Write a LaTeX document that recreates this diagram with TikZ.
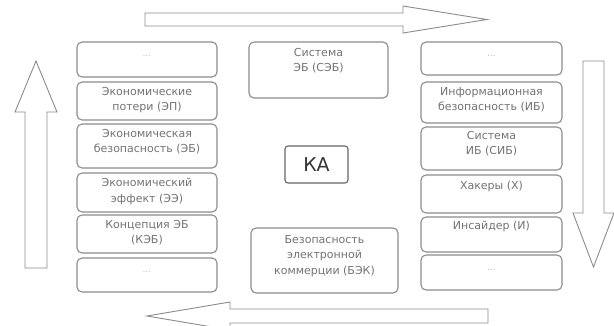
\documentclass[tikz,border=0pt]{standalone}
\usepackage{fontspec}
\setmainfont{DejaVu Sans}

\begin{document}
\begin{tikzpicture}[x=1pt,y=-1pt,
	blk/.style={draw=black!45, line width=1.1pt, rounded corners=5pt, fill=white, inner sep=0pt},
	txt/.style={anchor=north, align=center, inner sep=0pt, text=black!55, font=\fontsize{11}{15.5}\selectfont},
	dots/.style={inner sep=0pt, text=black!25, font=\fontsize{9}{10}\selectfont},
	blkarrow/.style={draw=black!45, line width=0.9pt, fill=white, line join=miter}]
	
	\clip (0,0) rectangle (614,325);
	\fill[white] (0,0) rectangle (614,325);
	
	% block arrows round the frame
	\filldraw[blkarrow] (145,13) -- (403,13) -- (403,6) -- (487,19.5) -- (403,33) -- (403,26) -- (145,26) -- cycle;
	\filldraw[blkarrow] (488,309) -- (230,309) -- (230,302) -- (147,316) -- (230,330) -- (230,323) -- (488,323) -- cycle;
	\filldraw[blkarrow] (25,268) -- (25,112) -- (15,112) -- (36,61) -- (57,112) -- (47,112) -- (47,268) -- cycle;
	\filldraw[blkarrow] (583,61) -- (583,213) -- (573,213) -- (593.5,267) -- (614,213) -- (604,213) -- (604,61) -- cycle;
	
	% left column
	\node[blk, minimum width=140pt, minimum height=35pt] (ld1) at (147,59.5) {};
	\node[dots] (ld1t) at (147,56) {...};
	\node[blk, minimum width=140pt, minimum height=38pt] (ld2) at (147,101) {};
	\node[txt] (ld2t) at (147,87) {Экономические\\потери (ЭП)};
	\node[blk, minimum width=140pt, minimum height=44pt] (ld3) at (147,146) {};
	\node[txt] (ld3t) at (147,129) {Экономическая\\безопасность (ЭБ)};
	\node[blk, minimum width=140pt, minimum height=39pt] (ld4) at (147,192.5) {};
	\node[txt] (ld4t) at (147,178) {Экономический\\эффект (ЭЭ)};
	\node[blk, minimum width=140pt, minimum height=38pt] (ld5) at (147,234) {};
	\node[txt] (ld5t) at (147,220) {Концепция ЭБ\\(КЭБ)};
	\node[blk, minimum width=140pt, minimum height=34pt] (ld6) at (147,275) {};
	\node[dots] (ld6t) at (147,272) {...};
	
	% right column
	\node[blk, minimum width=141pt, minimum height=33pt] (rd1) at (491.5,58.5) {};
	\node[dots] (rd1t) at (491.5,56) {...};
	\node[blk, minimum width=141pt, minimum height=41pt] (rd2) at (491.5,102.5) {};
	\node[txt] (rd2t) at (491.5,87) {Информационная\\безопасность (ИБ)};
	\node[blk, minimum width=141pt, minimum height=43pt] (rd3) at (491.5,148.5) {};
	\node[txt] (rd3t) at (491.5,131) {Система\\ИБ (СИБ)};
	\node[blk, minimum width=141pt, minimum height=38pt] (rd4) at (491.5,194) {};
	\node[txt] (rd4t) at (491.5,181) {Хакеры (Х)};
	\node[blk, minimum width=141pt, minimum height=35pt] (rd5) at (491.5,234.5) {};
	\node[txt] (rd5t) at (491.5,221) {Инсайдер (И)};
	\node[blk, minimum width=141pt, minimum height=35pt] (rd6) at (491.5,272.5) {};
	\node[dots] (rd6t) at (491.5,270) {...};
	
	% middle
	\node[blk, minimum width=139pt, minimum height=56pt] (ct) at (318.5,70) {};
	\node[txt] (ctt) at (318.5,48) {Система\\ЭБ (СЭБ)};
	\node[blk, draw=black!60, rounded corners=3pt, minimum width=63pt, minimum height=37pt,
	      font=\fontsize{19}{20}\selectfont, text=black!80] (ka) at (316.5,164.5) {КА};
	\node[blk, minimum width=147pt, minimum height=65pt] (cb) at (324.5,260.5) {};
	\node[txt] (cbt) at (324.5,235) {Безопасность\\электронной\\коммерции (БЭК)};
\end{tikzpicture}
\end{document}
